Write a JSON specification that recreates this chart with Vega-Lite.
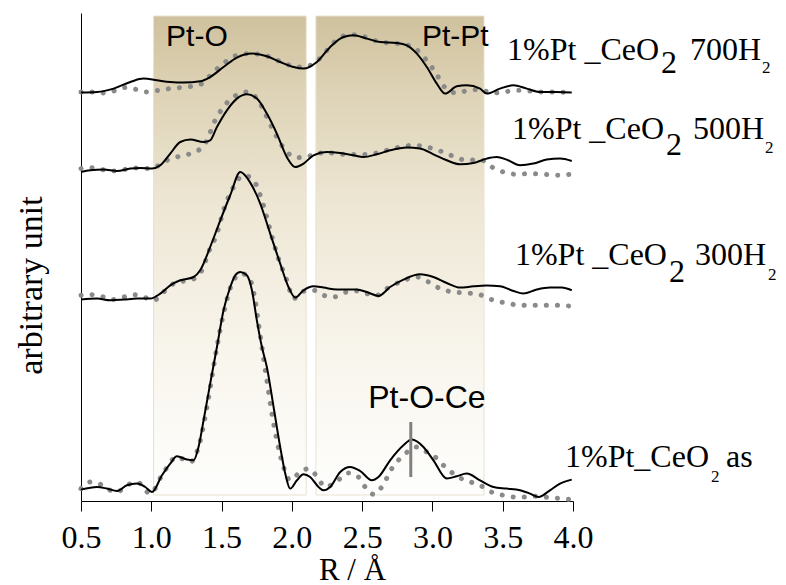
{
 "$schema": "https://vega.github.io/schema/vega-lite/v6.json",
 "width": 492,
 "height": 488,
 "autosize": {"type": "none"},
 "padding": {"left": 81, "top": 13, "right": 213, "bottom": 84},
 "background": "white",
 "config": {"view": {"stroke": null}},
 "datasets": {
  "bands": [
   {"band": "Pt-O", "r": 1.016, "r2": 2.102, "y": 6, "y2": 485},
   {"band": "Pt-Pt", "r": 2.171, "r2": 3.367, "y": 6, "y2": 485}
  ],
  "curves": [
   {"s":"700","k":"exp","r":0.500,"y":408.4},{"s":"700","k":"exp","r":0.614,"y":409.0},{"s":"700","k":"exp","r":0.732,"y":412.4},{"s":"700","k":"exp","r":0.851,"y":419.0},{"s":"700","k":"exp","r":0.945,"y":422.4},{"s":"700","k":"exp","r":1.040,"y":420.7},{"s":"700","k":"exp","r":1.135,"y":419.0},{"s":"700","k":"exp","r":1.230,"y":418.4},{"s":"700","k":"exp","r":1.348,"y":419.7},{"s":"700","k":"exp","r":1.419,"y":424.0},{"s":"700","k":"exp","r":1.514,"y":434.0},{"s":"700","k":"exp","r":1.609,"y":443.4},{"s":"700","k":"exp","r":1.716,"y":447.4},{"s":"700","k":"exp","r":1.822,"y":444.7},{"s":"700","k":"exp","r":1.917,"y":439.0},{"s":"700","k":"exp","r":2.012,"y":434.0},{"s":"700","k":"exp","r":2.083,"y":432.4},{"s":"700","k":"exp","r":2.178,"y":439.0},{"s":"700","k":"exp","r":2.273,"y":454.0},{"s":"700","k":"exp","r":2.367,"y":464.0},{"s":"700","k":"exp","r":2.438,"y":465.7},{"s":"700","k":"exp","r":2.533,"y":462.4},{"s":"700","k":"exp","r":2.628,"y":459.0},{"s":"700","k":"exp","r":2.746,"y":458.0},{"s":"700","k":"exp","r":2.818,"y":455.7},{"s":"700","k":"exp","r":2.889,"y":447.4},{"s":"700","k":"exp","r":2.960,"y":434.0},{"s":"700","k":"exp","r":3.031,"y":417.4},{"s":"700","k":"exp","r":3.090,"y":407.4},{"s":"700","k":"exp","r":3.173,"y":414.7},{"s":"700","k":"exp","r":3.244,"y":415.7},{"s":"700","k":"exp","r":3.339,"y":412.4},{"s":"700","k":"exp","r":3.386,"y":407.4},{"s":"700","k":"exp","r":3.481,"y":412.4},{"s":"700","k":"exp","r":3.576,"y":415.7},{"s":"700","k":"exp","r":3.671,"y":412.4},{"s":"700","k":"exp","r":3.765,"y":409.0},{"s":"700","k":"exp","r":3.884,"y":409.0},{"s":"700","k":"exp","r":3.991,"y":408.4},
   {"s":"700","k":"fit","r":0.500,"y":409.0},{"s":"700","k":"fit","r":0.566,"y":409.0},{"s":"700","k":"fit","r":0.649,"y":408.0},{"s":"700","k":"fit","r":0.732,"y":410.0},{"s":"700","k":"fit","r":0.815,"y":413.4},{"s":"700","k":"fit","r":0.898,"y":411.4},{"s":"700","k":"fit","r":0.969,"y":409.0},{"s":"700","k":"fit","r":1.052,"y":410.7},{"s":"700","k":"fit","r":1.135,"y":412.4},{"s":"700","k":"fit","r":1.206,"y":413.4},{"s":"700","k":"fit","r":1.289,"y":414.7},{"s":"700","k":"fit","r":1.360,"y":417.4},{"s":"700","k":"fit","r":1.443,"y":429.0},{"s":"700","k":"fit","r":1.526,"y":439.0},{"s":"700","k":"fit","r":1.609,"y":445.7},{"s":"700","k":"fit","r":1.692,"y":447.4},{"s":"700","k":"fit","r":1.775,"y":446.7},{"s":"700","k":"fit","r":1.870,"y":442.4},{"s":"700","k":"fit","r":1.964,"y":436.7},{"s":"700","k":"fit","r":2.059,"y":434.0},{"s":"700","k":"fit","r":2.130,"y":435.7},{"s":"700","k":"fit","r":2.190,"y":441.4},{"s":"700","k":"fit","r":2.261,"y":452.4},{"s":"700","k":"fit","r":2.320,"y":461.4},{"s":"700","k":"fit","r":2.391,"y":465.7},{"s":"700","k":"fit","r":2.462,"y":466.4},{"s":"700","k":"fit","r":2.533,"y":463.4},{"s":"700","k":"fit","r":2.628,"y":459.0},{"s":"700","k":"fit","r":2.711,"y":458.0},{"s":"700","k":"fit","r":2.794,"y":456.7},{"s":"700","k":"fit","r":2.877,"y":452.4},{"s":"700","k":"fit","r":2.948,"y":442.4},{"s":"700","k":"fit","r":3.019,"y":429.0},{"s":"700","k":"fit","r":3.090,"y":413.4},{"s":"700","k":"fit","r":3.173,"y":408.0},{"s":"700","k":"fit","r":3.256,"y":410.7},{"s":"700","k":"fit","r":3.339,"y":411.4},{"s":"700","k":"fit","r":3.422,"y":408.0},{"s":"700","k":"fit","r":3.505,"y":409.0},{"s":"700","k":"fit","r":3.600,"y":410.7},{"s":"700","k":"fit","r":3.694,"y":410.0},{"s":"700","k":"fit","r":3.789,"y":409.0},{"s":"700","k":"fit","r":3.884,"y":409.0},{"s":"700","k":"fit","r":3.991,"y":408.4},
   {"s":"500","k":"exp","r":0.500,"y":329.0},{"s":"500","k":"exp","r":0.566,"y":330.7},{"s":"500","k":"exp","r":0.661,"y":331.4},{"s":"500","k":"exp","r":0.756,"y":330.0},{"s":"500","k":"exp","r":0.851,"y":332.4},{"s":"500","k":"exp","r":0.922,"y":333.0},{"s":"500","k":"exp","r":1.005,"y":332.4},{"s":"500","k":"exp","r":1.064,"y":335.7},{"s":"500","k":"exp","r":1.135,"y":347.4},{"s":"500","k":"exp","r":1.206,"y":359.0},{"s":"500","k":"exp","r":1.277,"y":361.4},{"s":"500","k":"exp","r":1.372,"y":359.0},{"s":"500","k":"exp","r":1.419,"y":360.7},{"s":"500","k":"exp","r":1.467,"y":374.0},{"s":"500","k":"exp","r":1.538,"y":390.7},{"s":"500","k":"exp","r":1.609,"y":402.4},{"s":"500","k":"exp","r":1.680,"y":406.7},{"s":"500","k":"exp","r":1.751,"y":402.4},{"s":"500","k":"exp","r":1.822,"y":387.4},{"s":"500","k":"exp","r":1.893,"y":367.4},{"s":"500","k":"exp","r":1.964,"y":344.0},{"s":"500","k":"exp","r":2.024,"y":334.0},{"s":"500","k":"exp","r":2.083,"y":337.4},{"s":"500","k":"exp","r":2.154,"y":345.7},{"s":"500","k":"exp","r":2.249,"y":349.0},{"s":"500","k":"exp","r":2.344,"y":348.0},{"s":"500","k":"exp","r":2.438,"y":345.7},{"s":"500","k":"exp","r":2.509,"y":344.0},{"s":"500","k":"exp","r":2.604,"y":346.7},{"s":"500","k":"exp","r":2.699,"y":350.7},{"s":"500","k":"exp","r":2.818,"y":353.4},{"s":"500","k":"exp","r":2.912,"y":352.4},{"s":"500","k":"exp","r":3.007,"y":346.7},{"s":"500","k":"exp","r":3.102,"y":340.7},{"s":"500","k":"exp","r":3.197,"y":336.7},{"s":"500","k":"exp","r":3.292,"y":338.0},{"s":"500","k":"exp","r":3.386,"y":342.4},{"s":"500","k":"exp","r":3.457,"y":344.0},{"s":"500","k":"exp","r":3.528,"y":341.4},{"s":"500","k":"exp","r":3.623,"y":335.7},{"s":"500","k":"exp","r":3.718,"y":337.4},{"s":"500","k":"exp","r":3.813,"y":341.4},{"s":"500","k":"exp","r":3.908,"y":342.4},{"s":"500","k":"exp","r":3.991,"y":340.0},
   {"s":"500","k":"fit","r":0.500,"y":332.4},{"s":"500","k":"fit","r":0.566,"y":333.4},{"s":"500","k":"fit","r":0.637,"y":331.7},{"s":"500","k":"fit","r":0.732,"y":330.0},{"s":"500","k":"fit","r":0.803,"y":331.4},{"s":"500","k":"fit","r":0.886,"y":333.0},{"s":"500","k":"fit","r":0.969,"y":332.4},{"s":"500","k":"fit","r":1.040,"y":334.7},{"s":"500","k":"fit","r":1.111,"y":340.7},{"s":"500","k":"fit","r":1.182,"y":344.0},{"s":"500","k":"fit","r":1.265,"y":346.7},{"s":"500","k":"fit","r":1.336,"y":350.7},{"s":"500","k":"fit","r":1.396,"y":360.7},{"s":"500","k":"fit","r":1.443,"y":377.4},{"s":"500","k":"fit","r":1.514,"y":394.0},{"s":"500","k":"fit","r":1.585,"y":404.0},{"s":"500","k":"fit","r":1.680,"y":409.0},{"s":"500","k":"fit","r":1.751,"y":402.4},{"s":"500","k":"fit","r":1.822,"y":384.0},{"s":"500","k":"fit","r":1.893,"y":364.0},{"s":"500","k":"fit","r":1.964,"y":349.0},{"s":"500","k":"fit","r":2.036,"y":343.4},{"s":"500","k":"fit","r":2.107,"y":344.0},{"s":"500","k":"fit","r":2.178,"y":348.0},{"s":"500","k":"fit","r":2.273,"y":348.0},{"s":"500","k":"fit","r":2.367,"y":346.7},{"s":"500","k":"fit","r":2.486,"y":346.4},{"s":"500","k":"fit","r":2.581,"y":347.4},{"s":"500","k":"fit","r":2.675,"y":350.7},{"s":"500","k":"fit","r":2.770,"y":354.0},{"s":"500","k":"fit","r":2.865,"y":355.7},{"s":"500","k":"fit","r":2.960,"y":354.0},{"s":"500","k":"fit","r":3.055,"y":350.0},{"s":"500","k":"fit","r":3.149,"y":344.7},{"s":"500","k":"fit","r":3.244,"y":340.7},{"s":"500","k":"fit","r":3.339,"y":341.4},{"s":"500","k":"fit","r":3.422,"y":334.0},{"s":"500","k":"fit","r":3.505,"y":329.0},{"s":"500","k":"fit","r":3.600,"y":326.7},{"s":"500","k":"fit","r":3.694,"y":327.4},{"s":"500","k":"fit","r":3.789,"y":326.7},{"s":"500","k":"fit","r":3.884,"y":325.7},{"s":"500","k":"fit","r":3.979,"y":326.7},
   {"s":"300","k":"exp","r":0.500,"y":201.4},{"s":"300","k":"exp","r":0.614,"y":202.4},{"s":"300","k":"exp","r":0.709,"y":200.7},{"s":"300","k":"exp","r":0.803,"y":201.4},{"s":"300","k":"exp","r":0.898,"y":202.4},{"s":"300","k":"exp","r":0.993,"y":202.4},{"s":"300","k":"exp","r":1.064,"y":207.4},{"s":"300","k":"exp","r":1.135,"y":215.7},{"s":"300","k":"exp","r":1.206,"y":220.7},{"s":"300","k":"exp","r":1.301,"y":224.0},{"s":"300","k":"exp","r":1.348,"y":230.7},{"s":"300","k":"exp","r":1.419,"y":254.0},{"s":"300","k":"exp","r":1.491,"y":280.7},{"s":"300","k":"exp","r":1.562,"y":306.0},{"s":"300","k":"exp","r":1.633,"y":329.0},{"s":"300","k":"exp","r":1.704,"y":318.4},{"s":"300","k":"exp","r":1.775,"y":297.4},{"s":"300","k":"exp","r":1.846,"y":267.4},{"s":"300","k":"exp","r":1.917,"y":237.4},{"s":"300","k":"exp","r":1.976,"y":214.0},{"s":"300","k":"exp","r":2.024,"y":203.4},{"s":"300","k":"exp","r":2.083,"y":210.7},{"s":"300","k":"exp","r":2.154,"y":214.7},{"s":"300","k":"exp","r":2.225,"y":213.4},{"s":"300","k":"exp","r":2.320,"y":211.4},{"s":"300","k":"exp","r":2.462,"y":211.4},{"s":"300","k":"exp","r":2.533,"y":209.0},{"s":"300","k":"exp","r":2.616,"y":205.0},{"s":"300","k":"exp","r":2.699,"y":214.0},{"s":"300","k":"exp","r":2.794,"y":221.4},{"s":"300","k":"exp","r":2.912,"y":226.7},{"s":"300","k":"exp","r":3.007,"y":224.0},{"s":"300","k":"exp","r":3.102,"y":218.0},{"s":"300","k":"exp","r":3.197,"y":213.4},{"s":"300","k":"exp","r":3.292,"y":214.7},{"s":"300","k":"exp","r":3.386,"y":215.4},{"s":"300","k":"exp","r":3.481,"y":214.7},{"s":"300","k":"exp","r":3.576,"y":210.0},{"s":"300","k":"exp","r":3.647,"y":207.4},{"s":"300","k":"exp","r":3.742,"y":211.4},{"s":"300","k":"exp","r":3.836,"y":213.4},{"s":"300","k":"exp","r":3.919,"y":213.4},{"s":"300","k":"exp","r":3.991,"y":210.7},
   {"s":"300","k":"fit","r":0.500,"y":205.7},{"s":"300","k":"fit","r":0.566,"y":206.4},{"s":"300","k":"fit","r":0.637,"y":205.0},{"s":"300","k":"fit","r":0.720,"y":201.4},{"s":"300","k":"fit","r":0.791,"y":203.4},{"s":"300","k":"fit","r":0.874,"y":206.4},{"s":"300","k":"fit","r":0.945,"y":204.0},{"s":"300","k":"fit","r":1.017,"y":200.7},{"s":"300","k":"fit","r":1.088,"y":209.0},{"s":"300","k":"fit","r":1.182,"y":219.0},{"s":"300","k":"fit","r":1.277,"y":220.7},{"s":"300","k":"fit","r":1.360,"y":230.7},{"s":"300","k":"fit","r":1.408,"y":249.0},{"s":"300","k":"fit","r":1.467,"y":267.4},{"s":"300","k":"fit","r":1.514,"y":290.7},{"s":"300","k":"fit","r":1.585,"y":314.0},{"s":"300","k":"fit","r":1.656,"y":325.7},{"s":"300","k":"fit","r":1.727,"y":320.7},{"s":"300","k":"fit","r":1.787,"y":300.7},{"s":"300","k":"fit","r":1.846,"y":270.7},{"s":"300","k":"fit","r":1.893,"y":247.4},{"s":"300","k":"fit","r":1.964,"y":220.7},{"s":"300","k":"fit","r":2.012,"y":202.4},{"s":"300","k":"fit","r":2.083,"y":209.7},{"s":"300","k":"fit","r":2.154,"y":210.7},{"s":"300","k":"fit","r":2.225,"y":205.7},{"s":"300","k":"fit","r":2.296,"y":204.0},{"s":"300","k":"fit","r":2.391,"y":209.0},{"s":"300","k":"fit","r":2.462,"y":210.0},{"s":"300","k":"fit","r":2.533,"y":207.4},{"s":"300","k":"fit","r":2.604,"y":205.7},{"s":"300","k":"fit","r":2.675,"y":212.4},{"s":"300","k":"fit","r":2.770,"y":219.0},{"s":"300","k":"fit","r":2.889,"y":224.0},{"s":"300","k":"fit","r":2.972,"y":219.0},{"s":"300","k":"fit","r":3.055,"y":212.4},{"s":"300","k":"fit","r":3.149,"y":209.0},{"s":"300","k":"fit","r":3.244,"y":208.0},{"s":"300","k":"fit","r":3.351,"y":205.7},{"s":"300","k":"fit","r":3.434,"y":200.7},{"s":"300","k":"fit","r":3.528,"y":198.0},{"s":"300","k":"fit","r":3.623,"y":195.7},{"s":"300","k":"fit","r":3.718,"y":195.7},{"s":"300","k":"fit","r":3.813,"y":195.7},{"s":"300","k":"fit","r":3.908,"y":195.7},{"s":"300","k":"fit","r":3.991,"y":194.7},
   {"s":"as","k":"exp","r":0.500,"y":11.4},{"s":"as","k":"exp","r":0.614,"y":14.0},{"s":"as","k":"exp","r":0.685,"y":12.4},{"s":"as","k":"exp","r":0.756,"y":10.0},{"s":"as","k":"exp","r":0.827,"y":15.7},{"s":"as","k":"exp","r":0.898,"y":17.4},{"s":"as","k":"exp","r":0.957,"y":14.0},{"s":"as","k":"exp","r":1.005,"y":9.0},{"s":"as","k":"exp","r":1.076,"y":25.7},{"s":"as","k":"exp","r":1.135,"y":37.4},{"s":"as","k":"exp","r":1.182,"y":44.7},{"s":"as","k":"exp","r":1.254,"y":41.4},{"s":"as","k":"exp","r":1.301,"y":40.7},{"s":"as","k":"exp","r":1.336,"y":54.0},{"s":"as","k":"exp","r":1.372,"y":80.7},{"s":"as","k":"exp","r":1.419,"y":117.4},{"s":"as","k":"exp","r":1.467,"y":154.0},{"s":"as","k":"exp","r":1.514,"y":190.7},{"s":"as","k":"exp","r":1.562,"y":214.0},{"s":"as","k":"exp","r":1.597,"y":225.7},{"s":"as","k":"exp","r":1.633,"y":229.0},{"s":"as","k":"exp","r":1.680,"y":225.7},{"s":"as","k":"exp","r":1.716,"y":210.7},{"s":"as","k":"exp","r":1.751,"y":180.7},{"s":"as","k":"exp","r":1.787,"y":154.0},{"s":"as","k":"exp","r":1.822,"y":134.0},{"s":"as","k":"exp","r":1.870,"y":94.0},{"s":"as","k":"exp","r":1.917,"y":54.0},{"s":"as","k":"exp","r":1.953,"y":27.4},{"s":"as","k":"exp","r":1.988,"y":12.4},{"s":"as","k":"exp","r":2.036,"y":20.7},{"s":"as","k":"exp","r":2.083,"y":26.7},{"s":"as","k":"exp","r":2.130,"y":24.0},{"s":"as","k":"exp","r":2.190,"y":14.0},{"s":"as","k":"exp","r":2.225,"y":10.7},{"s":"as","k":"exp","r":2.273,"y":14.0},{"s":"as","k":"exp","r":2.344,"y":29.0},{"s":"as","k":"exp","r":2.415,"y":34.0},{"s":"as","k":"exp","r":2.486,"y":30.0},{"s":"as","k":"exp","r":2.569,"y":20.7},{"s":"as","k":"exp","r":2.616,"y":24.0},{"s":"as","k":"exp","r":2.699,"y":40.7},{"s":"as","k":"exp","r":2.794,"y":55.7},{"s":"as","k":"exp","r":2.853,"y":61.4},{"s":"as","k":"exp","r":2.936,"y":54.0},{"s":"as","k":"exp","r":3.007,"y":40.7},{"s":"as","k":"exp","r":3.102,"y":22.4},{"s":"as","k":"exp","r":3.173,"y":24.7},{"s":"as","k":"exp","r":3.244,"y":27.4},{"s":"as","k":"exp","r":3.339,"y":20.7},{"s":"as","k":"exp","r":3.434,"y":14.0},{"s":"as","k":"exp","r":3.528,"y":12.4},{"s":"as","k":"exp","r":3.623,"y":10.7},{"s":"as","k":"exp","r":3.694,"y":7.4},{"s":"as","k":"exp","r":3.754,"y":4.0},{"s":"as","k":"exp","r":3.836,"y":10.7},{"s":"as","k":"exp","r":3.908,"y":17.4},{"s":"as","k":"exp","r":3.991,"y":21.4},
   {"s":"as","k":"fit","r":0.500,"y":12.4},{"s":"as","k":"fit","r":0.566,"y":19.0},{"s":"as","k":"fit","r":0.637,"y":16.7},{"s":"as","k":"fit","r":0.708,"y":10.7},{"s":"as","k":"fit","r":0.756,"y":9.0},{"s":"as","k":"fit","r":0.827,"y":15.7},{"s":"as","k":"fit","r":0.898,"y":19.0},{"s":"as","k":"fit","r":0.993,"y":7.4},{"s":"as","k":"fit","r":1.076,"y":25.7},{"s":"as","k":"fit","r":1.182,"y":44.0},{"s":"as","k":"fit","r":1.277,"y":39.0},{"s":"as","k":"fit","r":1.336,"y":54.0},{"s":"as","k":"fit","r":1.396,"y":94.0},{"s":"as","k":"fit","r":1.443,"y":134.0},{"s":"as","k":"fit","r":1.467,"y":154.0},{"s":"as","k":"fit","r":1.514,"y":187.4},{"s":"as","k":"fit","r":1.585,"y":220.7},{"s":"as","k":"fit","r":1.645,"y":227.4},{"s":"as","k":"fit","r":1.704,"y":220.7},{"s":"as","k":"fit","r":1.739,"y":200.7},{"s":"as","k":"fit","r":1.763,"y":177.4},{"s":"as","k":"fit","r":1.787,"y":154.0},{"s":"as","k":"fit","r":1.822,"y":120.7},{"s":"as","k":"fit","r":1.858,"y":87.4},{"s":"as","k":"fit","r":1.893,"y":60.7},{"s":"as","k":"fit","r":1.941,"y":34.0},{"s":"as","k":"fit","r":1.988,"y":20.7},{"s":"as","k":"fit","r":2.047,"y":27.4},{"s":"as","k":"fit","r":2.118,"y":32.4},{"s":"as","k":"fit","r":2.178,"y":24.7},{"s":"as","k":"fit","r":2.237,"y":14.0},{"s":"as","k":"fit","r":2.296,"y":17.4},{"s":"as","k":"fit","r":2.344,"y":22.4},{"s":"as","k":"fit","r":2.403,"y":28.0},{"s":"as","k":"fit","r":2.474,"y":24.0},{"s":"as","k":"fit","r":2.521,"y":14.0},{"s":"as","k":"fit","r":2.581,"y":6.7},{"s":"as","k":"fit","r":2.640,"y":14.0},{"s":"as","k":"fit","r":2.711,"y":32.4},{"s":"as","k":"fit","r":2.794,"y":45.7},{"s":"as","k":"fit","r":2.889,"y":54.0},{"s":"as","k":"fit","r":2.960,"y":49.0},{"s":"as","k":"fit","r":3.019,"y":44.0},{"s":"as","k":"fit","r":3.078,"y":35.7},{"s":"as","k":"fit","r":3.149,"y":27.4},{"s":"as","k":"fit","r":3.220,"y":21.4},{"s":"as","k":"fit","r":3.292,"y":18.0},{"s":"as","k":"fit","r":3.363,"y":14.0},{"s":"as","k":"fit","r":3.434,"y":8.0},{"s":"as","k":"fit","r":3.505,"y":5.7},{"s":"as","k":"fit","r":3.588,"y":4.0},{"s":"as","k":"fit","r":3.671,"y":4.0},{"s":"as","k":"fit","r":3.742,"y":4.7},{"s":"as","k":"fit","r":3.836,"y":3.4},{"s":"as","k":"fit","r":3.908,"y":2.4},{"s":"as","k":"fit","r":3.991,"y":1.4}
  ],
  "marker": [{"r": 2.846, "y": 24, "y2": 79}],
  "serifLabels": [
   {"t": "1%Pt _CeO", "r": 3.531, "y": 440.7},
   {"t": "2", "r": 4.626, "y": 427.7},
   {"t": "700H", "r": 4.832, "y": 440.7},
   {"t": "1%Pt _CeO", "r": 3.566, "y": 361.7},
   {"t": "2", "r": 4.662, "y": 345.7},
   {"t": "500H", "r": 4.854, "y": 361.7},
   {"t": "1%Pt _CeO", "r": 3.587, "y": 235.7},
   {"t": "2", "r": 4.683, "y": 218.7},
   {"t": "300H", "r": 4.868, "y": 235.7},
   {"t": "1%Pt_CeO", "r": 3.943, "y": 33.7},
   {"t": "as", "r": 5.088, "y": 33.7}
  ],
  "subLabels": [
   {"t": "2", "r": 5.345, "y": 428},
   {"t": "2", "r": 5.366, "y": 348},
   {"t": "2", "r": 5.387, "y": 221},
   {"t": "2", "r": 4.982, "y": 19}
  ],
  "bandLabels": [
   {"t": "Pt-O", "r": 1.105, "y": 455.5},
   {"t": "Pt-Pt", "r": 2.926, "y": 455.5}
  ],
  "peakLabel": [{"t": "Pt-O-Ce", "r": 2.961, "y": 93}]
 },
 "layer": [
  {
   "data": {"name": "bands"},
   "mark": {
    "type": "rect",
    "fill": {"gradient": "linear", "x1": 0, "y1": 0, "x2": 0, "y2": 1,
     "stops": [
      {"offset": 0, "color": "#cfc19d"},
      {"offset": 0.15, "color": "#ddd2b5"},
      {"offset": 0.4, "color": "#eee7d5"},
      {"offset": 0.7, "color": "#f8f5ec"},
      {"offset": 1, "color": "#fefefd"}
     ]},
    "stroke": "#e8e2d2",
    "strokeWidth": 1
   },
   "encoding": {
    "x": {"field": "r", "type": "quantitative",
     "scale": {"domain": [0.5, 4.0], "nice": false, "zero": false},
     "axis": {
      "values": [0.5, 0.75, 1, 1.25, 1.5, 1.75, 2, 2.25, 2.5, 2.75, 3, 3.25, 3.5, 3.75, 4],
      "tickSize": {"condition": {"test": "(datum.value*2) % 1 !== 0", "value": 5}, "value": 10},
      "labelExpr": "(datum.value*2) % 1 === 0 ? format(datum.value, '.1f') : ''",
      "labelFont": "Liberation Serif", "labelFontSize": 32, "labelColor": "#000",
      "labelPadding": 11, "labelFlush": false, "labelOverlap": false,
      "tickColor": "#000", "tickWidth": 1, "domainColor": "#000", "domainWidth": 1,
      "grid": false,
      "title": "R / Å", "titleFont": "Liberation Serif", "titleFontSize": 31,
      "titleFontWeight": "normal", "titleColor": "#000",
      "titleX": 271, "titleY": 78, "titleAlign": "center", "titleBaseline": "alphabetic"
     }},
    "x2": {"field": "r2"},
    "y": {"field": "y", "type": "quantitative",
     "scale": {"domain": [0, 488], "nice": false, "zero": false},
     "axis": {
      "ticks": false, "labels": false, "grid": false,
      "domainColor": "#000", "domainWidth": 1,
      "title": "arbitrary unit", "titleFont": "Liberation Serif", "titleFontSize": 34,
      "titleFontWeight": "normal", "titleColor": "#000", "titleAngle": 270,
      "titleX": -40, "titleY": 272, "titleAlign": "center", "titleBaseline": "alphabetic"
     }},
    "y2": {"field": "y2"}
   }
  },
  {
   "data": {"name": "curves"},
   "transform": [{"filter": "datum.k === 'fit'"}],
   "mark": {"type": "line", "color": "#8a8a8a", "strokeWidth": 5, "strokeDash": [0.1, 11], "strokeCap": "round", "interpolate": "monotone"},
   "encoding": {
    "x": {"field": "r", "type": "quantitative"},
    "y": {"field": "y", "type": "quantitative"},
    "detail": {"field": "s"}
   }
  },
  {
   "data": {"name": "curves"},
   "transform": [{"filter": "datum.k === 'exp'"}],
   "mark": {"type": "line", "color": "#000", "strokeWidth": 2, "interpolate": "monotone"},
   "encoding": {
    "x": {"field": "r", "type": "quantitative"},
    "y": {"field": "y", "type": "quantitative"},
    "detail": {"field": "s"}
   }
  },
  {
   "data": {"name": "marker"},
   "mark": {"type": "rule", "color": "#808080", "strokeWidth": 3},
   "encoding": {
    "x": {"field": "r", "type": "quantitative"},
    "y": {"field": "y", "type": "quantitative"},
    "y2": {"field": "y2"}
   }
  },
  {
   "data": {"name": "serifLabels"},
   "mark": {"type": "text", "font": "Liberation Serif", "fontSize": 32, "color": "#000", "align": "left", "baseline": "alphabetic"},
   "encoding": {
    "x": {"field": "r", "type": "quantitative"},
    "y": {"field": "y", "type": "quantitative"},
    "text": {"field": "t"}
   }
  },
  {
   "data": {"name": "subLabels"},
   "mark": {"type": "text", "font": "Liberation Serif", "fontSize": 17, "color": "#000", "align": "left", "baseline": "alphabetic"},
   "encoding": {
    "x": {"field": "r", "type": "quantitative"},
    "y": {"field": "y", "type": "quantitative"},
    "text": {"field": "t"}
   }
  },
  {
   "data": {"name": "bandLabels"},
   "mark": {"type": "text", "font": "Liberation Sans", "fontSize": 30, "color": "#000", "align": "left", "baseline": "alphabetic"},
   "encoding": {
    "x": {"field": "r", "type": "quantitative"},
    "y": {"field": "y", "type": "quantitative"},
    "text": {"field": "t"}
   }
  },
  {
   "data": {"name": "peakLabel"},
   "mark": {"type": "text", "font": "Liberation Sans", "fontSize": 32, "color": "#000", "align": "center", "baseline": "alphabetic"},
   "encoding": {
    "x": {"field": "r", "type": "quantitative"},
    "y": {"field": "y", "type": "quantitative"},
    "text": {"field": "t"}
   }
  }
 ]
}
